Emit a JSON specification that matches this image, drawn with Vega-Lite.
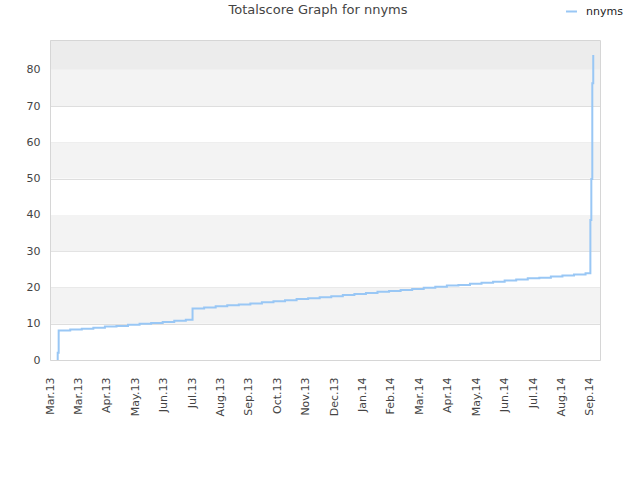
{
  "$schema": "https://vega.github.io/schema/vega-lite/v6.json",
  "autosize": "none",
  "width": 550,
  "height": 320,
  "padding": {"left": 50, "top": 40, "right": 40, "bottom": 120},
  "background": "white",
  "config": {
    "font": "DejaVu Sans",
    "view": {"stroke": "#d6d6d6", "strokeWidth": 1},
    "style": {"cell": {"stroke": "#d6d6d6", "strokeWidth": 1, "strokeForeground": true}},
    "axisY": {
      "title": null,
      "values": [0, 10, 20, 30, 40, 50, 60, 70, 80],
      "labelOverlap": false,
      "labelFontSize": 11,
      "labelColor": "#444444",
      "labelPadding": 10,
      "ticks": false,
      "domain": false,
      "grid": true,
      "gridColor": "#dedede",
      "gridWidth": 1,
      "zindex": 1
    }
  },
  "title": {
    "text": "Totalscore Graph for nnyms",
    "anchor": "middle",
    "frame": "group",
    "fontSize": 13,
    "fontWeight": "normal",
    "color": "#444444",
    "offset": -12,
    "dx": -7
  },
  "datasets": {
    "bands": [
      {"lo": 10, "hi": 20, "kind": "light"},
      {"lo": 30, "hi": 40, "kind": "light"},
      {"lo": 50, "hi": 60, "kind": "light"},
      {"lo": 70, "hi": 80, "kind": "light"},
      {"lo": 80, "hi": 88.2, "kind": "dark"}
    ],
    "score": [
      {"date": "2013-03-09", "score": 0, "player": "nnyms"},
      {"date": "2013-03-10", "score": 2, "player": "nnyms"},
      {"date": "2013-03-11", "score": 8.1, "player": "nnyms"},
      {"date": "2013-03-23", "score": 8.4, "player": "nnyms"},
      {"date": "2013-04-04", "score": 8.6, "player": "nnyms"},
      {"date": "2013-04-16", "score": 8.9, "player": "nnyms"},
      {"date": "2013-04-28", "score": 9.2, "player": "nnyms"},
      {"date": "2013-05-10", "score": 9.4, "player": "nnyms"},
      {"date": "2013-05-22", "score": 9.7, "player": "nnyms"},
      {"date": "2013-06-03", "score": 10.0, "player": "nnyms"},
      {"date": "2013-06-15", "score": 10.2, "player": "nnyms"},
      {"date": "2013-06-27", "score": 10.5, "player": "nnyms"},
      {"date": "2013-07-09", "score": 10.8, "player": "nnyms"},
      {"date": "2013-07-21", "score": 11.1, "player": "nnyms"},
      {"date": "2013-07-28", "score": 14.2, "player": "nnyms"},
      {"date": "2013-08-09", "score": 14.5, "player": "nnyms"},
      {"date": "2013-08-21", "score": 14.8, "player": "nnyms"},
      {"date": "2013-09-02", "score": 15.1, "player": "nnyms"},
      {"date": "2013-09-14", "score": 15.3, "player": "nnyms"},
      {"date": "2013-09-26", "score": 15.6, "player": "nnyms"},
      {"date": "2013-10-08", "score": 15.9, "player": "nnyms"},
      {"date": "2013-10-20", "score": 16.2, "player": "nnyms"},
      {"date": "2013-11-01", "score": 16.5, "player": "nnyms"},
      {"date": "2013-11-13", "score": 16.8, "player": "nnyms"},
      {"date": "2013-11-25", "score": 17.0, "player": "nnyms"},
      {"date": "2013-12-07", "score": 17.3, "player": "nnyms"},
      {"date": "2013-12-19", "score": 17.6, "player": "nnyms"},
      {"date": "2013-12-31", "score": 17.9, "player": "nnyms"},
      {"date": "2014-01-12", "score": 18.2, "player": "nnyms"},
      {"date": "2014-01-24", "score": 18.5, "player": "nnyms"},
      {"date": "2014-02-05", "score": 18.8, "player": "nnyms"},
      {"date": "2014-02-17", "score": 19.0, "player": "nnyms"},
      {"date": "2014-03-01", "score": 19.3, "player": "nnyms"},
      {"date": "2014-03-13", "score": 19.6, "player": "nnyms"},
      {"date": "2014-03-25", "score": 19.9, "player": "nnyms"},
      {"date": "2014-04-06", "score": 20.2, "player": "nnyms"},
      {"date": "2014-04-18", "score": 20.5, "player": "nnyms"},
      {"date": "2014-04-30", "score": 20.7, "player": "nnyms"},
      {"date": "2014-05-12", "score": 21.0, "player": "nnyms"},
      {"date": "2014-05-24", "score": 21.3, "player": "nnyms"},
      {"date": "2014-06-05", "score": 21.6, "player": "nnyms"},
      {"date": "2014-06-17", "score": 21.9, "player": "nnyms"},
      {"date": "2014-06-29", "score": 22.2, "player": "nnyms"},
      {"date": "2014-07-11", "score": 22.5, "player": "nnyms"},
      {"date": "2014-07-23", "score": 22.7, "player": "nnyms"},
      {"date": "2014-08-04", "score": 23.0, "player": "nnyms"},
      {"date": "2014-08-16", "score": 23.3, "player": "nnyms"},
      {"date": "2014-08-28", "score": 23.6, "player": "nnyms"},
      {"date": "2014-09-09", "score": 23.9, "player": "nnyms"},
      {"date": "2014-09-14", "score": 38.6, "player": "nnyms"},
      {"date": "2014-09-15", "score": 49.9, "player": "nnyms"},
      {"date": "2014-09-16", "score": 76.3, "player": "nnyms"},
      {"date": "2014-09-17", "score": 84.1, "player": "nnyms"}
    ]
  },
  "layer": [
    {
      "data": {"name": "bands"},
      "mark": {"type": "rect", "strokeWidth": 0},
      "encoding": {
        "y": {
          "field": "lo",
          "type": "quantitative",
          "scale": {"domain": [0, 88.2], "nice": false, "zero": true},
          "axis": {"values": [0, 10, 20, 30, 40, 50, 60, 70, 80], "labelOverlap": false, "title": null}
        },
        "y2": {"field": "hi"},
        "fill": {"field": "kind", "type": "nominal", "scale": {"domain": ["light", "dark"], "range": ["#f3f3f3", "#ececec"]}, "legend": null}
      }
    },
    {
      "data": {"name": "score"},
      "mark": {"type": "line", "interpolate": "step-after", "strokeWidth": 2},
      "encoding": {
        "x": {
          "field": "date",
          "type": "temporal",
          "scale": {"domain": [{"year": 2013, "month": 3, "date": 2}, {"year": 2014, "month": 9, "date": 24}]},
          "axis": {
            "title": null,
            "format": "%b.%y",
            "labelAngle": -90,
            "labelFontSize": 11,
            "labelColor": "#444444",
            "labelPadding": 17,
            "ticks": false,
            "grid": false,
            "domain": false,
            "labelOverlap": false,
            "labelFlush": false,
            "values": [
              {"year": 2013, "month": 3, "date": 2},
              {"year": 2013, "month": 3, "date": 31, "hours": 12},
              {"year": 2013, "month": 4, "date": 30},
              {"year": 2013, "month": 5, "date": 29, "hours": 12},
              {"year": 2013, "month": 6, "date": 28},
              {"year": 2013, "month": 7, "date": 27, "hours": 12},
              {"year": 2013, "month": 8, "date": 26},
              {"year": 2013, "month": 9, "date": 24, "hours": 12},
              {"year": 2013, "month": 10, "date": 24},
              {"year": 2013, "month": 11, "date": 22, "hours": 12},
              {"year": 2013, "month": 12, "date": 22},
              {"year": 2014, "month": 1, "date": 20, "hours": 12},
              {"year": 2014, "month": 2, "date": 19},
              {"year": 2014, "month": 3, "date": 20, "hours": 12},
              {"year": 2014, "month": 4, "date": 19},
              {"year": 2014, "month": 5, "date": 18, "hours": 12},
              {"year": 2014, "month": 6, "date": 17},
              {"year": 2014, "month": 7, "date": 16, "hours": 12},
              {"year": 2014, "month": 8, "date": 15},
              {"year": 2014, "month": 9, "date": 13, "hours": 12}
            ]
          }
        },
        "y": {
          "field": "score",
          "type": "quantitative",
          "scale": {"domain": [0, 88.2], "nice": false},
          "axis": {"values": [0, 10, 20, 30, 40, 50, 60, 70, 80], "labelOverlap": false, "title": null}
        },
        "color": {
          "field": "player",
          "type": "nominal",
          "scale": {"range": ["#99c7f5"]},
          "legend": {
            "title": null,
            "orient": "none",
            "legendX": 515,
            "legendY": -35,
            "symbolType": "stroke",
            "symbolStrokeWidth": 2,
            "symbolSize": 120,
            "labelFontSize": 11,
            "labelColor": "#222222",
            "labelOffset": 8
          }
        }
      }
    }
  ]
}
